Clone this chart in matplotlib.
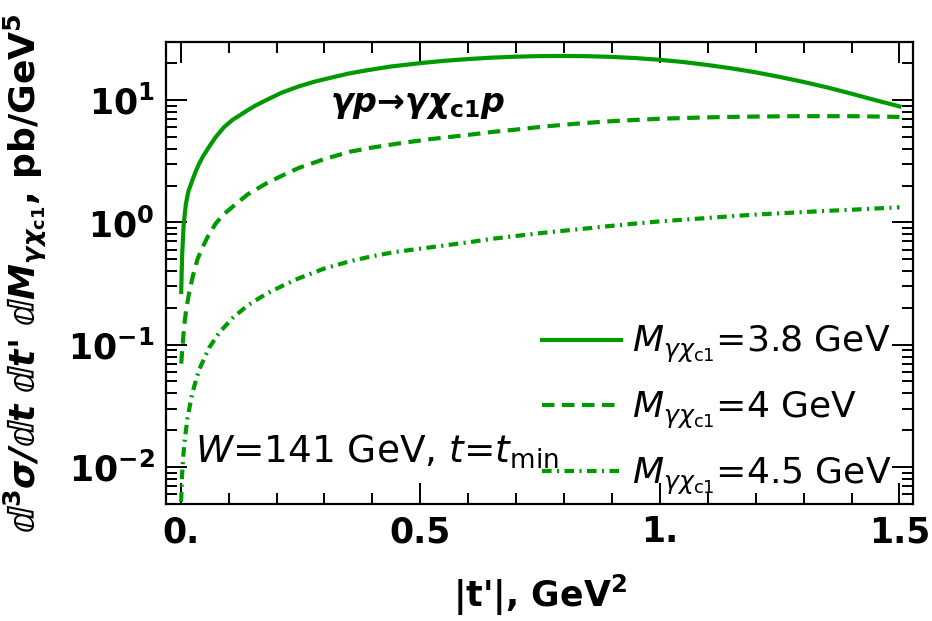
import numpy as np
import matplotlib
matplotlib.use("Agg")
import matplotlib.pyplot as plt
from matplotlib.ticker import FixedLocator, FixedFormatter, LogLocator, MultipleLocator, NullFormatter

plt.rcParams['mathtext.fontset'] = 'dejavusans'

# values (|t'| in GeV^2, cross section in pb/GeV^5)
t_38 = [0.001, 0.002, 0.003, 0.006, 0.0105, 0.016, 0.024, 0.031, 0.038, 0.047, 0.059, 0.073,
        0.09, 0.108, 0.125, 0.14, 0.155, 0.178, 0.21, 0.247, 0.28, 0.317, 0.35, 0.386, 0.44,
        0.5, 0.55, 0.6, 0.65, 0.7, 0.75, 0.8, 0.85, 0.9, 0.95, 1.0, 1.05, 1.1, 1.15, 1.2,
        1.25, 1.3, 1.35, 1.4, 1.45, 1.5]
sig_38 = [0.27, 0.4, 0.55, 0.95, 1.4, 1.8, 2.2, 2.6, 3.0, 3.5, 4.15, 5.0,
          6.0, 6.9, 7.6, 8.3, 9.0, 10.0, 11.5, 13.0, 14.2, 15.4, 16.5, 17.5, 18.9,
          20.1, 21.0, 21.7, 22.3, 22.7, 22.95, 23.0, 22.9, 22.6, 22.1, 21.4, 20.5, 19.4, 18.2, 16.9,
          15.5, 14.1, 12.7, 11.3, 10.0, 8.9]

t_40 = [0.001, 0.004, 0.007, 0.011, 0.017, 0.025, 0.035, 0.045, 0.056, 0.073, 0.09, 0.108,
        0.14, 0.178, 0.21, 0.247, 0.3, 0.352, 0.4, 0.45, 0.52, 0.6, 0.65, 0.7, 0.76, 0.831,
        0.89, 0.95, 1.0, 1.06, 1.13, 1.2, 1.29, 1.4, 1.5]
sig_40 = [0.07, 0.1, 0.14, 0.19, 0.26, 0.36, 0.5, 0.62, 0.76, 0.98, 1.17, 1.34,
          1.7, 2.08, 2.4, 2.8, 3.3, 3.78, 4.1, 4.4, 4.8, 5.2, 5.5, 5.75, 6.1, 6.45,
          6.7, 6.9, 7.05, 7.17, 7.28, 7.35, 7.4, 7.4, 7.3]

t_45 = [0.0008, 0.003, 0.007, 0.014, 0.024, 0.038, 0.059, 0.08, 0.108, 0.14, 0.178, 0.21,
        0.247, 0.3, 0.352, 0.4, 0.45, 0.52, 0.603, 0.65, 0.7, 0.76, 0.831, 0.89, 0.95, 1.0,
        1.06, 1.13, 1.2, 1.29, 1.35, 1.4, 1.45, 1.5]
sig_45 = [0.0052, 0.009, 0.015, 0.025, 0.04, 0.062, 0.094, 0.125, 0.165, 0.21, 0.26, 0.3,
          0.35, 0.42, 0.48, 0.53, 0.575, 0.625, 0.69, 0.735, 0.775, 0.825, 0.88, 0.93, 0.98, 1.02,
          1.06, 1.11, 1.16, 1.21, 1.245, 1.27, 1.30, 1.33]

labels = [r"$M_{\gamma\chi_{\rm c1}}$=3.8 GeV",
          r"$M_{\gamma\chi_{\rm c1}}$=4 GeV",
          r"$M_{\gamma\chi_{\rm c1}}$=4.5 GeV"]

green = "#009a00"

fig = plt.figure(figsize=(9.32, 6.21), dpi=100)
ax = fig.add_axes([0.178, 0.188, 0.802, 0.744])

ax.plot(t_38, sig_38, color=green, lw=3, label=labels[0])
ax.plot(t_40, sig_40, color=green, lw=3, dashes=(3, 1.8), label=labels[1])
ax.plot(t_45, sig_45, color=green, lw=3, dashes=(2.3, 1.3, 0.5, 1.3), label=labels[2])

ax.set_yscale('log')
ax.set_xlim(-0.031, 1.529)
ax.set_ylim(0.00495, 29.8)

# ticks
ax.xaxis.set_major_locator(FixedLocator([0, 0.5, 1.0, 1.5]))
ax.xaxis.set_major_formatter(FixedFormatter(["0.", "0.5", "1.", "1.5"]))
ax.xaxis.set_minor_locator(MultipleLocator(0.1))
ax.yaxis.set_major_locator(FixedLocator([0.01, 0.1, 1, 10]))
ax.yaxis.set_major_formatter(FixedFormatter([r"$\mathbf{10^{-2}}$", r"$\mathbf{10^{-1}}$",
                                             r"$\mathbf{10^{0}}$", r"$\mathbf{10^{1}}$"]))
ax.yaxis.set_minor_locator(LogLocator(base=10, subs=np.arange(2, 10)))
ax.yaxis.set_minor_formatter(NullFormatter())

ax.tick_params(which='both', direction='in', top=True, right=True, width=1.4)
ax.tick_params(which='major', length=15, labelsize=25, pad=8)
ax.tick_params(which='minor', length=8)
for lab in ax.get_xticklabels() + ax.get_yticklabels():
    lab.set_fontweight('bold')
for s in ax.spines.values():
    s.set_linewidth(1.6)

ax.set_xlabel(r"|t'|, GeV$^{\mathbf{2}}$", fontsize=25, fontweight='bold', labelpad=17)
ax.set_ylabel(r"$\mathbfit{ⅆ}^{\mathbf{3}}\mathbfit{σ/ⅆt\ ⅆt}$' $\mathbfit{ⅆM}_{\mathbfit{γχ}_{\mathbf{c1}}}$, pb/GeV$^{\mathbf{5}}$",
              fontsize=26, fontweight='bold', labelpad=14)

ax.text(0.22, 0.85, r"$\mathbfit{γp}$→$\mathbfit{γχ}_{\mathbf{c1}}\mathbfit{p}$",
        transform=ax.transAxes, fontsize=24, fontweight='bold')
ax.text(0.039, 0.091, r"$W$=141 GeV, $t$=$t_{\rm min}$", transform=ax.transAxes, fontsize=27)

ax.legend(loc='lower right', bbox_to_anchor=(0.99, -0.015), frameon=False, fontsize=26,
          handlelength=2.2, labelspacing=0.68, handletextpad=0.3, borderaxespad=0.0)

fig.savefig("out.png", dpi=100)
